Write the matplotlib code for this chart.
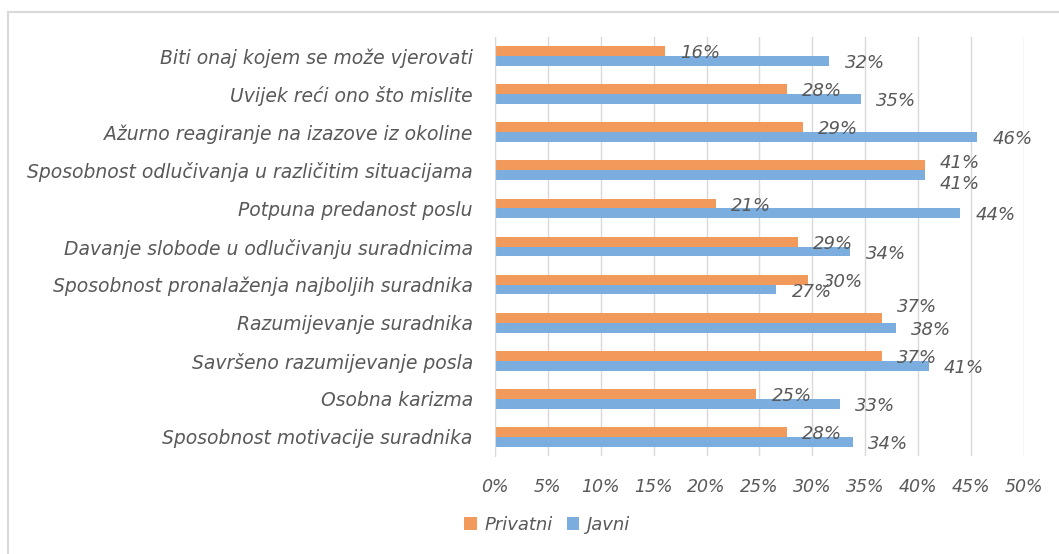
import matplotlib.pyplot as plt
from matplotlib.patches import Rectangle

# categories from top to bottom
kategorije = [
    'Biti onaj kojem se može vjerovati',
    'Uvijek reći ono što mislite',
    'Ažurno reagiranje na izazove iz okoline',
    'Sposobnost odlučivanja u različitim situacijama',
    'Potpuna predanost poslu',
    'Davanje slobode u odlučivanju suradnicima',
    'Sposobnost pronalaženja najboljih suradnika',
    'Razumijevanje suradnika',
    'Savršeno razumijevanje posla',
    'Osobna karizma',
    'Sposobnost motivacije suradnika',
]
privatni = [16.1, 27.6, 29.1, 40.6, 20.9, 28.6, 29.6, 36.6, 36.6, 24.7, 27.6]
javni = [31.6, 34.6, 45.6, 40.6, 44.0, 33.6, 26.6, 37.9, 41.0, 32.6, 33.8]
ticks = [0, 5, 10, 15, 20, 25, 30, 35, 40, 45, 50]

plt.rcParams['font.family'] = ['DejaVu Sans']
siva = '#595959'
narandzasta = '#F19A5B'
plava = '#7BADDF'

fig = plt.figure(figsize=(10.59, 5.54), dpi=100)
ax = fig.add_axes([0.4674, 0.1769, 0.4995, 0.7563])

# light border round the chart area
fig.patches.append(Rectangle((8 / 1059, -0.1), 1.2, 0.1 + 1 - 12 / 554,
                             transform=fig.transFigure, fill=False,
                             edgecolor='#D9D9D9', linewidth=1.5))

y = list(range(len(kategorije)))
h = 0.26
ax.barh([i - h / 2 for i in y], privatni, height=h, color=narandzasta, label='Privatni')
ax.barh([i + h / 2 for i in y], javni, height=h, color=plava, label='Javni')

# labels were nudged by hand in the original where they collide
pomak_p = {3: 3, 7: 9}
pomak_j = {3: -5}
for i, v in enumerate(privatni):
    ax.annotate(f'{v:.0f}%', (v, i - h / 2), xytext=(11, -1.5 + pomak_p.get(i, 0)),
                textcoords='offset points', ha='left', va='center',
                fontsize=13, style='italic', color=siva)
for i, v in enumerate(javni):
    ax.annotate(f'{v:.0f}%', (v, i + h / 2), xytext=(11, -1.5 + pomak_j.get(i, 0)),
                textcoords='offset points', ha='left', va='center',
                fontsize=13, style='italic', color=siva)

ax.set_ylim(len(kategorije) - 0.5, -0.5)
ax.set_xlim(0, 50)
ax.set_yticks(y)
ax.set_yticklabels(kategorije, fontsize=13.5, style='italic', color=siva)
ax.set_xticks(ticks)
ax.set_xticklabels([f'{t}%' for t in ticks], fontsize=12.5, style='italic', color=siva)
ax.tick_params(axis='both', length=0)
ax.tick_params(axis='y', pad=16)
ax.tick_params(axis='x', pad=16)
ax.grid(axis='x', color='#D9D9D9', linewidth=1)
ax.set_axisbelow(True)
for s in ['top', 'right', 'bottom']:
    ax.spines[s].set_visible(False)
ax.spines['left'].set_color('#D9D9D9')

leg = fig.legend(loc='center', bbox_to_anchor=(547 / 1059, 1 - 525 / 554), ncol=2,
                 frameon=False, fontsize=13, handlelength=0.7, handleheight=0.7,
                 handletextpad=0.4, columnspacing=0.8)
for t in leg.get_texts():
    t.set_color(siva)
    t.set_style('italic')

plt.savefig('out.png', dpi=100)
